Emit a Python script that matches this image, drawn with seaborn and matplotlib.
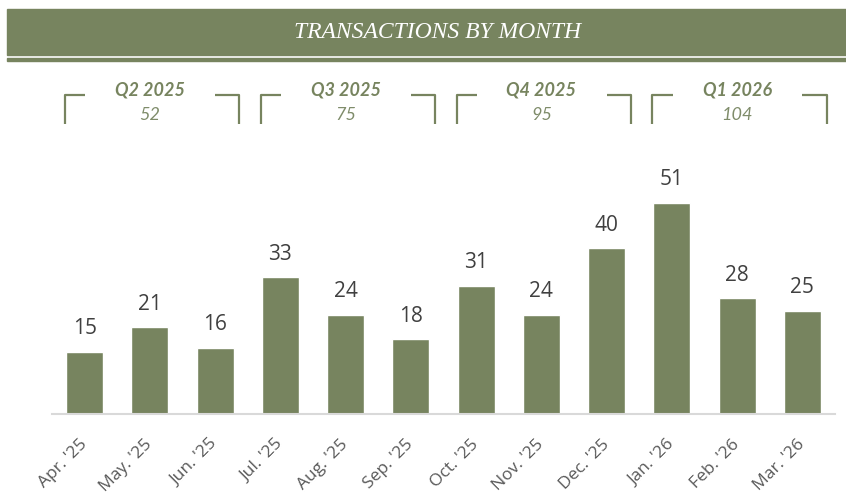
import numpy as np
import pandas as pd
import matplotlib.pyplot as plt
import seaborn as sns
from matplotlib.patches import Rectangle
from matplotlib.transforms import blended_transform_factory

# data
months = ["Apr. '25", "May. '25", "Jun. '25", "Jul. '25", "Aug. '25", "Sep. '25",
          "Oct. '25", "Nov. '25", "Dec. '25", "Jan. '26", "Feb. '26", "Mar. '26"]
transactions = [15, 21, 16, 33, 24, 18, 31, 24, 40, 51, 28, 25]
quarters = ["Q2 2025", "Q3 2025", "Q4 2025", "Q1 2026"]

green = "#77845F"
light_green = "#7F8C6A"
text_grey = "#404040"

sns.set_style("white")
plt.rcParams["font.family"] = ["Open Sans", "DejaVu Sans"]

df = pd.DataFrame({"month": months, "count": transactions})

fig = plt.figure(figsize=(8.46, 4.96), dpi=100)
ax = fig.add_axes([52 / 846, 82 / 496, 783 / 846, 248.4 / 496])

sns.barplot(data=df, x="month", y="count", color=green, width=0.567,
            saturation=1, ax=ax)

ax.set_xlim(-0.5, 11.5)
ax.set_ylim(0, 60)
ax.set_xlabel("")
ax.set_ylabel("")
ax.set_yticks([])
sns.despine(ax=ax, left=True)
ax.spines["bottom"].set_color("#D9D9D9")
ax.spines["bottom"].set_linewidth(1.5)
ax.tick_params(axis="x", length=0, pad=20)
for lbl in ax.get_xticklabels():
    lbl.set_rotation(45)
    lbl.set_ha("right")
    lbl.set_va("center")
    lbl.set_rotation_mode("anchor")
    lbl.set_fontsize(12.5)
    lbl.set_color("#595959")

# value labels
for i, v in enumerate(transactions):
    ax.annotate(str(v), (i, v), xytext=(0, 9), textcoords="offset points",
                ha="center", va="bottom", fontsize=15, color=text_grey)

# title banner
fig.patches.append(Rectangle((7 / 846, 1 - 55 / 496), 1, 46 / 496,
                             transform=fig.transFigure, color=green, zorder=0))
fig.patches.append(Rectangle((7 / 846, 1 - 61 / 496), 1, 3 / 496,
                             transform=fig.transFigure, color=green, zorder=0))
fig.text(0.517, 1 - 33 / 496, "TRANSACTIONS BY MONTH", ha="center", va="center",
         color="white", fontsize=17, style="italic", family="Liberation Serif")

# quarter brackets
trans = blended_transform_factory(ax.transData, fig.transFigure)
y_top = 1 - 95 / 496
y_bot = 1 - 124 / 496
for q, name in enumerate(quarters):
    start = q * 3
    left = start - 0.30
    right = start + 2.37
    total = sum(transactions[start:start + 3])
    ax.plot([left, left, left + 0.31], [y_bot, y_top, y_top], color=green,
            lw=1.6, transform=trans, clip_on=False, solid_capstyle="butt")
    ax.plot([right - 0.37, right, right], [y_top, y_top, y_bot], color=green,
            lw=1.6, transform=trans, clip_on=False, solid_capstyle="butt")
    ax.text(start + 1, 1 - 90 / 496, name, transform=trans, ha="center",
            va="center", fontsize=13, fontweight="bold", style="italic",
            color=green, family="Lato")
    ax.text(start + 1, 1 - 115 / 496, str(total), transform=trans, ha="center",
            va="center", fontsize=13, style="italic", color=light_green,
            family="Lato")

fig.savefig("out.png", dpi=100)
